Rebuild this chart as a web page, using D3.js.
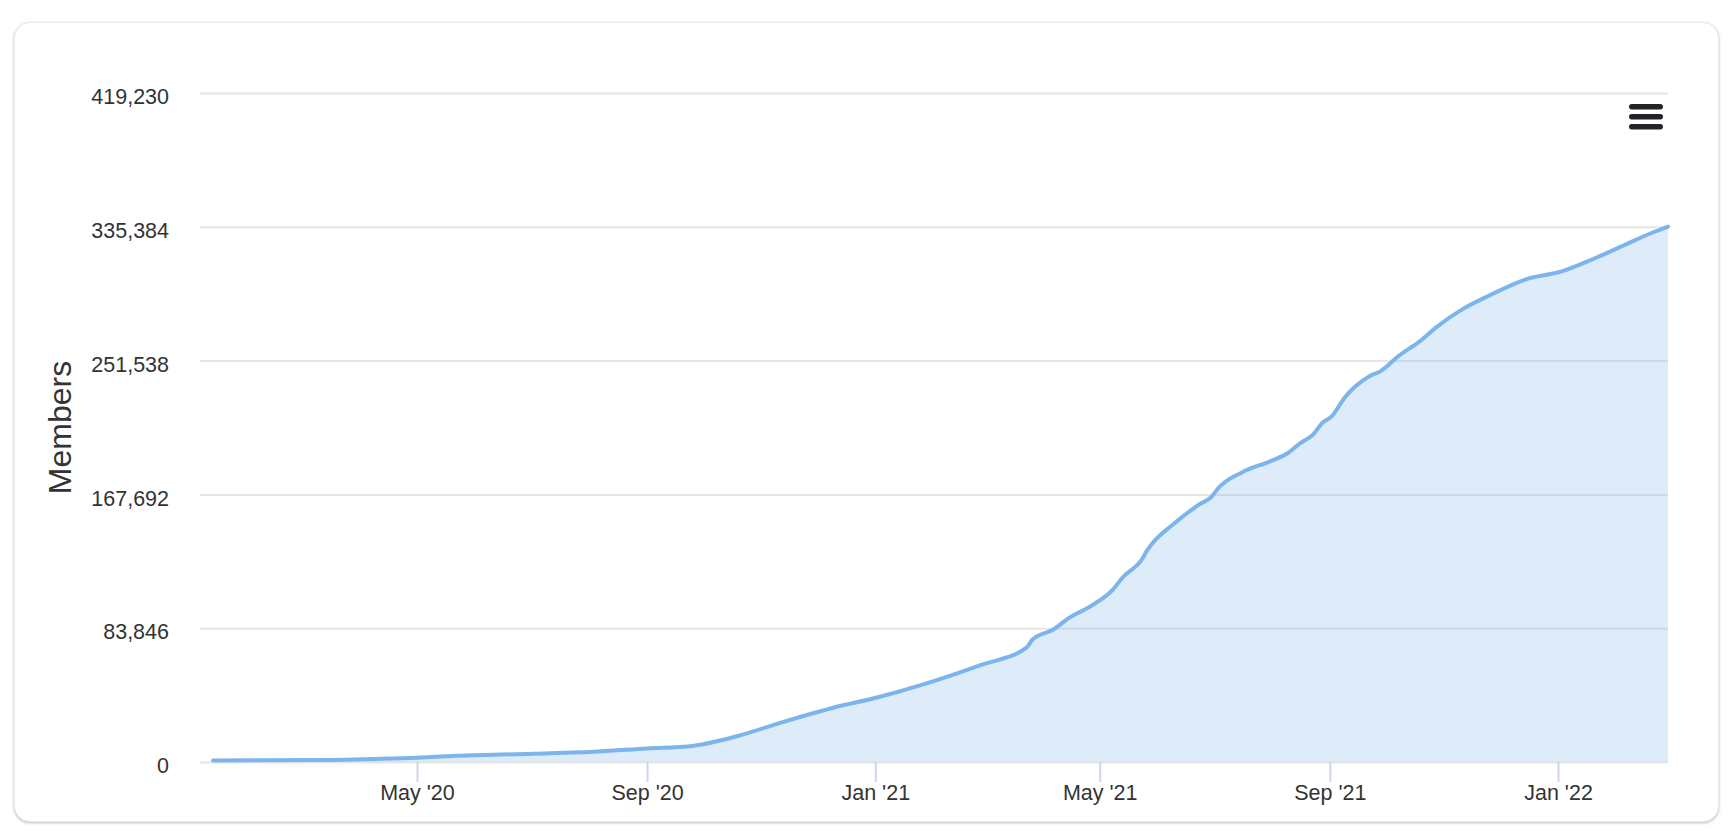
<!DOCTYPE html>
<html>
<head>
<meta charset="utf-8">
<script src="https://cdn.jsdelivr.net/npm/d3@7"></script>
<style>
  html, body { margin: 0; padding: 0; background: #ffffff; width: 1730px; height: 834px; overflow: hidden; }
  #card {
    position: absolute; left: 14px; top: 22px; width: 1705px; height: 800px;
    background: #ffffff; border-radius: 16px; box-sizing: border-box;
    border: 1px solid #ececec;
    box-shadow: 0 1px 3px rgba(0,0,0,0.28);
  }
  svg { position: absolute; left: 0; top: 0; }
  text { font-family: "Liberation Sans", Arial, Helvetica, sans-serif; }
</style>
</head>
<body>
<div id="card"></div>
<svg id="chart" width="1730" height="834"></svg>
<script>
// ---- data ----
const dates = [
  "2020-01-13","2020-03-17","2020-04-08","2020-05-01","2020-05-20","2020-07-02",
  "2020-08-06","2020-09-01","2020-09-24","2020-10-20","2020-11-12","2020-12-09",
  "2021-01-03","2021-01-28","2021-02-27","2021-03-23","2021-03-26","2021-04-06",
  "2021-04-15","2021-04-26","2021-05-08","2021-05-13","2021-05-24","2021-05-26",
  "2021-05-29","2021-06-09","2021-06-23","2021-06-30","2021-07-03","2021-07-16",
  "2021-07-31","2021-08-10","2021-08-16","2021-08-23","2021-08-28","2021-09-02",
  "2021-09-09","2021-09-22","2021-09-28","2021-10-08","2021-10-19","2021-10-28",
  "2021-11-11","2021-11-25","2021-12-16","2022-01-03","2022-01-19","2022-02-06",
  "2022-02-20","2022-02-28T19:00"
];
const members = [
  1000, 1300, 1900, 2700, 3760, 5200,
  6640, 8520, 9900, 16480, 24800, 33840,
  40700, 49070, 60970, 71800, 76640, 82900,
  90600, 97500, 107970, 115300, 127800, 132000,
  136800, 148700, 161240, 166440, 171070, 181480,
  188370, 193950, 199650, 205100, 212430, 216570,
  228470, 241630, 244770, 254610, 263570, 272530,
  283810, 292200, 302860, 307440, 314770, 324170,
  331500, 335500
];
const yTicks = [0, 83846, 167692, 251538, 335384, 419230];
const xTickDates = ["2020-05-01","2020-09-01","2021-01-01","2021-05-01","2021-09-01","2022-01-01"];
const xDomain = ["2020-01-06", "2022-02-28T19:00"];
const yTitle = "Members";

// ---- chart ----
(function () {
const parse = s => new Date(s.length > 10 ? s + "Z" : s + "T00:00Z");
const data = dates.map((d, i) => ({ date: parse(d), value: members[i] }));

const plotLeft = 200, plotRight = 1668, plotTop = 93, plotBottom = 762;
const x = d3.scaleUtc().domain(xDomain.map(parse)).range([plotLeft, plotRight]);
const y = d3.scaleLinear().domain([0, d3.max(yTicks)]).range([plotBottom, plotTop]);

const svg = d3.select("#chart");
const fontSize = 21.5;
const textColor = "#333333";

// y grid + labels
const yAxis = svg.append("g")
  .attr("transform", `translate(${plotLeft},0)`)
  .call(d3.axisLeft(y).tickValues(yTicks).tickFormat(d3.format(","))
    .tickSize(-(plotRight - plotLeft)).tickPadding(31));
yAxis.select(".domain").remove();
yAxis.selectAll(".tick line").attr("stroke", "#e6e6e6").attr("stroke-width", 2);
yAxis.selectAll(".tick text")
  .attr("fill", textColor).attr("font-size", fontSize).attr("dy", "0.5em")
  .style("font-family", '"Liberation Sans", Arial, sans-serif');

// area + line
const area = d3.area().x(d => x(d.date)).y0(y(0)).y1(d => y(d.value)).curve(d3.curveMonotoneX);
const line = d3.line().x(d => x(d.date)).y(d => y(d.value)).curve(d3.curveMonotoneX);
svg.append("path").datum(data).attr("d", area)
  .attr("fill", "rgba(124,181,236,0.25)");
svg.append("path").datum(data).attr("d", line)
  .attr("fill", "none").attr("stroke", "#7cb5ec").attr("stroke-width", 4)
  .attr("stroke-linejoin", "round").attr("stroke-linecap", "round");

// x axis
const xAxis = svg.append("g")
  .attr("transform", `translate(0,${plotBottom})`)
  .call(d3.axisBottom(x).tickValues(xTickDates.map(parse))
    .tickFormat(d3.utcFormat("%b '%y")).tickSize(20).tickPadding(3));
xAxis.select(".domain").remove();
xAxis.selectAll(".tick line").attr("stroke", "#ccd6eb").attr("stroke-width", 2);
xAxis.selectAll(".tick text")
  .attr("fill", textColor).attr("font-size", fontSize)
  .style("font-family", '"Liberation Sans", Arial, sans-serif');

// y axis title
svg.append("text")
  .attr("transform", `translate(71,427.5) rotate(-90)`)
  .attr("text-anchor", "middle")
  .attr("font-size", 32)
  .attr("fill", textColor)
  .text(yTitle);

// menu (hamburger) icon
const menu = svg.append("g").attr("transform", "translate(1629,104)");
[0, 10, 20].forEach(dy => {
  menu.append("rect").attr("x", 0).attr("y", dy).attr("width", 34).attr("height", 5.5)
    .attr("rx", 2.75).attr("fill", "#222428");
});
})();
</script>
</body>
</html>
